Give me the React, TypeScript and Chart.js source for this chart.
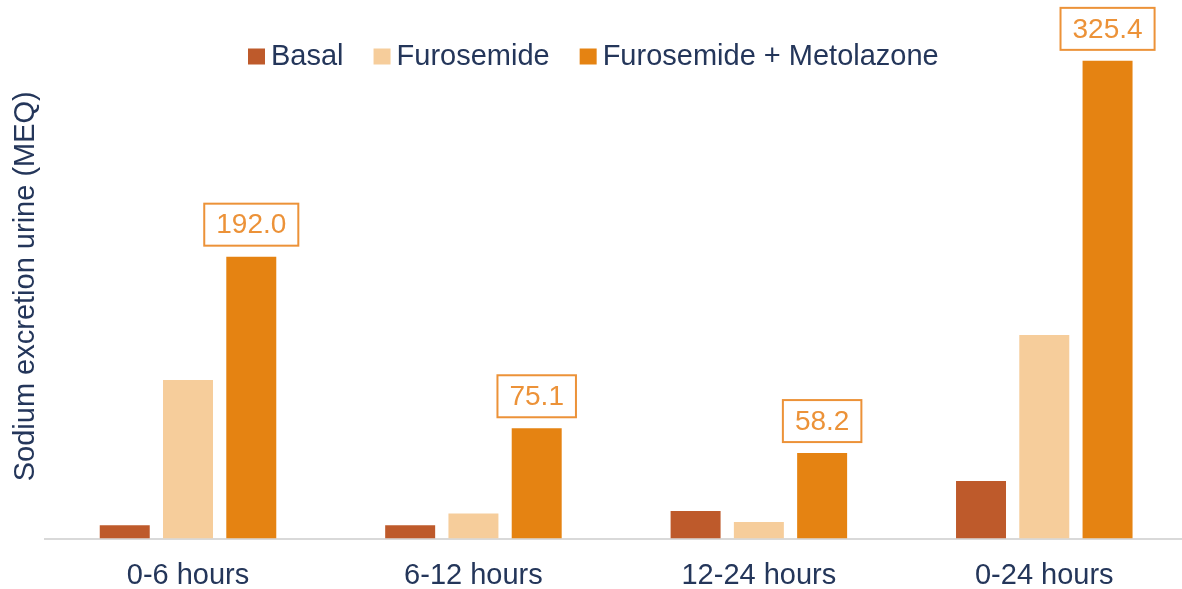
import React, { useEffect, useRef } from "react";
import { Chart, registerables } from "chart.js";

Chart.register(...registerables);

const categories = ["0-6 hours", "6-12 hours", "12-24 hours", "0-24 hours"];
const seriesNames = ["Basal", "Furosemide", "Furosemide + Metolazone"];
const basal = [9.1, 9.1, 18.8, 39.1];
const furosemide = [108.0, 17.1, 11.3, 138.7];
const furoMetolazone = [192.0, 75.1, 58.2, 325.4];
const seriesColors = ["#BE5A2B", "#F6CD9B", "#E58312"];
const yAxisTitle = "Sodium excretion urine (MEQ)";

const TEXT = "#24365A";
const LABEL = "#EC9238";
const FONT = "'Liberation Sans', Arial, sans-serif";

const legendPlugin = {
  id: "customLegend",
  afterDraw(chart: any) {
    const ctx = chart.ctx;
    ctx.save();
    ctx.font = `29px ${FONT}`;
    ctx.textBaseline = "alphabetic";
    ctx.textAlign = "left";
    let x = 248;
    const baseline = 64.5;
    seriesNames.forEach((name, i) => {
      ctx.fillStyle = seriesColors[i];
      ctx.fillRect(x, baseline - 16, 17, 16);
      x += 17 + 6;
      ctx.fillStyle = TEXT;
      ctx.fillText(name, x, baseline);
      x += ctx.measureText(name).width + 30;
    });
    ctx.restore();
  },
};

const boxLabelPlugin = {
  id: "boxLabels",
  afterDatasetsDraw(chart: any) {
    const ctx = chart.ctx;
    const meta = chart.getDatasetMeta(2);
    ctx.save();
    ctx.font = `28px ${FONT}`;
    ctx.textAlign = "center";
    ctx.textBaseline = "middle";
    meta.data.forEach((bar: any, i: number) => {
      const text = furoMetolazone[i].toFixed(1);
      const w = ctx.measureText(text).width + 24;
      const h = 42;
      const bottom = bar.y - 11;
      const top = bottom - h;
      ctx.strokeStyle = LABEL;
      ctx.lineWidth = 2;
      ctx.strokeRect(bar.x - w / 2, top, w, h);
      ctx.fillStyle = LABEL;
      ctx.fillText(text, bar.x, top + h / 2 + 1);
    });
    ctx.restore();
  },
};

export default function App() {
  const ref = useRef<HTMLCanvasElement | null>(null);
  useEffect(() => {
    document.body.style.margin = "0";
    if (!ref.current) return;
    const chart = new Chart(ref.current, {
      type: "bar",
      data: {
        labels: categories,
        datasets: [
          { label: seriesNames[0], data: basal, backgroundColor: seriesColors[0] },
          { label: seriesNames[1], data: furosemide, backgroundColor: seriesColors[1] },
          { label: seriesNames[2], data: furoMetolazone, backgroundColor: seriesColors[2] },
        ],
      },
      options: {
        responsive: false,
        animation: false,
        layout: { padding: { left: 2.5, right: 0, top: 34, bottom: 6.5 } },
        datasets: { bar: { categoryPercentage: 0.665, barPercentage: 0.79 } },
        plugins: {
          legend: { display: false },
          tooltip: { enabled: false },
        },
        scales: {
          x: {
            grid: { display: false, drawTicks: false },
            border: { display: true, color: "#D9D9D9", width: 2 },
            ticks: {
              color: TEXT,
              font: { family: FONT, size: 29, lineHeight: 1.0 },
              padding: 23,
              maxRotation: 0,
            },
          },
          y: {
            min: 0,
            max: 343.7,
            grid: { display: false, drawTicks: false },
            border: { display: false },
            ticks: { display: false },
            title: {
              display: true,
              text: yAxisTitle,
              color: TEXT,
              font: { family: FONT, size: 29 },
              padding: { top: 6, bottom: 2 },
            },
          },
        },
      },
      plugins: [legendPlugin, boxLabelPlugin],
    });
    return () => chart.destroy();
  }, []);
  return (
    <div style={{ width: 1182, height: 589, overflow: "hidden", background: "#fff" }}>
      <canvas ref={ref} width={1187} height={620} />
    </div>
  );
}
